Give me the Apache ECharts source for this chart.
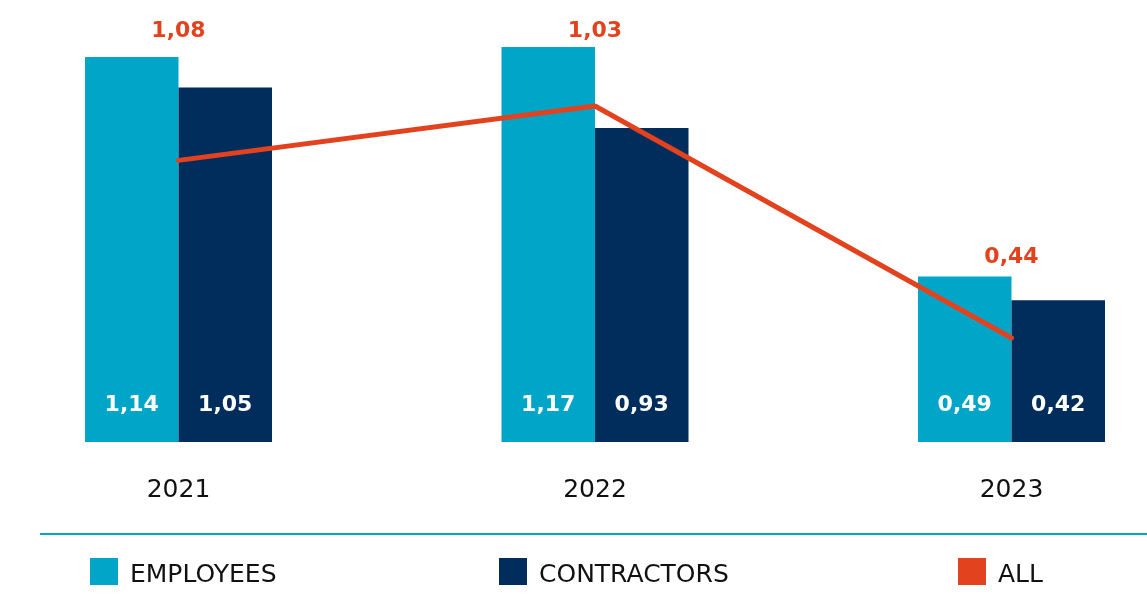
<!DOCTYPE html>
<html>
<head>
<meta charset="utf-8">
<script src="https://cdn.jsdelivr.net/npm/echarts@6/dist/echarts.min.js"></script>
<style>
html,body{margin:0;padding:0;background:#fff;}
#chart{width:1147px;height:595px;}
</style>
</head>
<body>
<div id="chart"></div>
<script>
// Data
var years = ['2021', '2022', '2023'];
var employees = [1.14, 1.17, 0.49];
var contractors = [1.05, 0.93, 0.42];
var allValues = [1.08, 1.03, 0.44];          // label texts for ALL
var allLinePos = [0.834, 0.995, 0.308];       // drawn line heights (as in reference)
var allLabelPos = [1.217, 1.217, 0.548];      // label anchor heights (as in reference)

var C_EMP = '#00a5c8', C_CON = '#002d5c', C_ALL = '#e2431e';
var FONT = '"DejaVu Sans", Roboto, sans-serif';

function fmt(v) { return v.toFixed(2).replace('.', ','); }
function pts(arr) { return arr.map(function (v, i) { return [i, v]; }); }

var chart = echarts.init(document.getElementById('chart'));
function legendAt(name, left) {
  return {
    data: [name], left: left, top: 558, icon: 'rect', padding: 0,
    itemWidth: 28, itemHeight: 27, itemGap: 0,
    formatter: '{t|{name}}',
    textStyle: {
      fontFamily: FONT, fontSize: 25, color: '#111',
      rich: { t: { fontFamily: FONT, fontSize: 25, color: '#111', padding: [8, 0, 0, 7] } }
    }
  };
}
chart.setOption({
  animation: false,
  backgroundColor: '#fff',
  legend: [legendAt('EMPLOYEES', 90), legendAt('CONTRACTORS', 499), legendAt('ALL', 958)],
  grid: { left: 0, right: 0, top: 3, bottom: 153, containLabel: false },
  xAxis: {
    type: 'value', min: -0.4286, max: 2.3253,
    axisLine: { show: false }, axisTick: { show: false }, splitLine: { show: false },
    axisLabel: {
      customValues: [0, 1, 2], margin: 36, fontFamily: FONT, fontSize: 25, color: '#111',
      formatter: function (v) { return years[Math.round(v)]; }
    }
  },
  yAxis: { type: 'value', min: 0, max: 1.3, show: false, splitLine: { show: false } },
  graphic: [{
    type: 'line', shape: { x1: 40, y1: 534, x2: 1147, y2: 534 },
    style: { stroke: C_EMP, lineWidth: 2 }
  }],
  series: [
    {
      name: 'EMPLOYEES', type: 'bar', data: pts(employees), barWidth: 93.5, barGap: '0%',
      itemStyle: { color: C_EMP },
      label: { show: true, position: 'insideBottom', distance: 26, color: '#fff',
        fontFamily: FONT, fontSize: 22, fontWeight: 'bold',
        formatter: function (p) { return fmt(p.value[1]); } }
    },
    {
      name: 'CONTRACTORS', type: 'bar', data: pts(contractors), barWidth: 93.5, barGap: '0%',
      itemStyle: { color: C_CON },
      label: { show: true, position: 'insideBottom', distance: 26, color: '#fff',
        fontFamily: FONT, fontSize: 22, fontWeight: 'bold',
        formatter: function (p) { return fmt(p.value[1]); } }
    },
    {
      name: 'ALL', type: 'line', data: pts(allLinePos), symbol: 'none',
      itemStyle: { color: C_ALL },
      lineStyle: { color: C_ALL, width: 5, cap: 'round', join: 'round' },
      z: 5
    },
    {
      name: 'ALL_LABELS', type: 'scatter', data: pts(allLabelPos), symbolSize: 1,
      itemStyle: { color: 'rgba(0,0,0,0)', opacity: 1 }, clip: false, silent: true,
      label: { show: true, position: 'inside', color: C_ALL, opacity: 1,
        textBorderWidth: 0,
        fontFamily: FONT, fontSize: 22, fontWeight: 'bold',
        formatter: function (p) { return fmt(allValues[p.dataIndex]); } },
      z: 6
    }
  ]
});
</script>
</body>
</html>
